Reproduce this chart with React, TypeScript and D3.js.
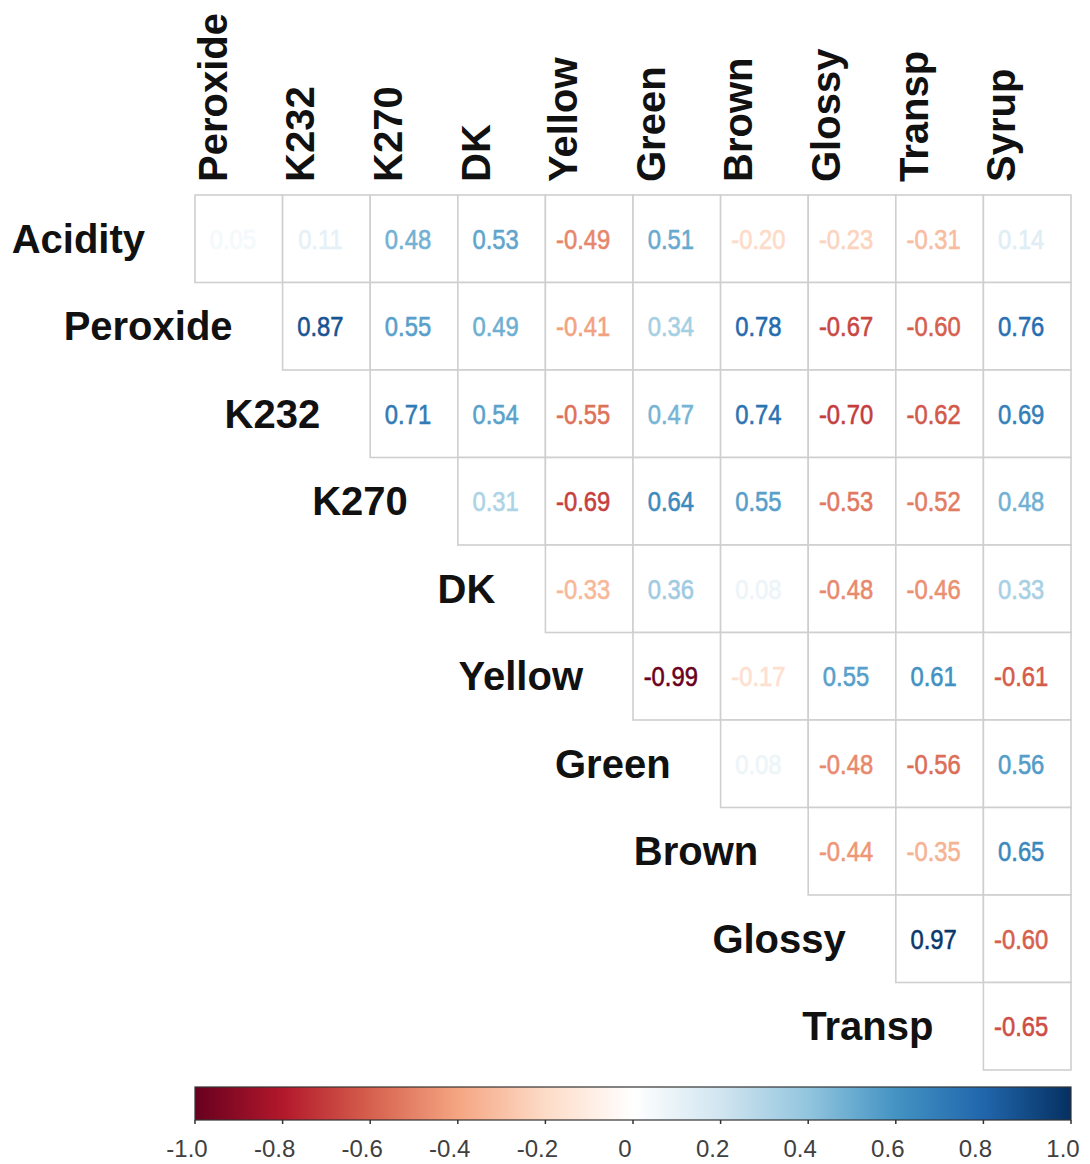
import React, { useEffect, useRef } from "react";
import * as d3 from "d3";

const rowNames = ["Acidity", "Peroxide", "K232", "K270", "DK", "Yellow", "Green", "Brown", "Glossy", "Transp"];
const colNames = ["Peroxide", "K232", "K270", "DK", "Yellow", "Green", "Brown", "Glossy", "Transp", "Syrup"];

// upper triangle, row i starts at column i
const corrRows = [
  [0.05, 0.11, 0.48, 0.53, -0.49, 0.51, -0.2, -0.23, -0.31, 0.14],
  [0.87, 0.55, 0.49, -0.41, 0.34, 0.78, -0.67, -0.6, 0.76],
  [0.71, 0.54, -0.55, 0.47, 0.74, -0.7, -0.62, 0.69],
  [0.31, -0.69, 0.64, 0.55, -0.53, -0.52, 0.48],
  [-0.33, 0.36, 0.08, -0.48, -0.46, 0.33],
  [-0.99, -0.17, 0.55, 0.61, -0.61],
  [0.08, -0.48, -0.56, 0.56],
  [-0.44, -0.35, 0.65],
  [0.97, -0.6],
  [-0.65],
];

const rdbu = ["#67001F", "#B2182B", "#D6604D", "#F4A582", "#FDDBC7", "#FFFFFF", "#D1E5F0", "#92C5DE", "#4393C3", "#2166AC", "#053061"];
const barTicks = [-1, -0.8, -0.6, -0.4, -0.2, 0, 0.2, 0.4, 0.6, 0.8, 1];

const App = () => {
  const ref = useRef(null);

  useEffect(() => {
    const svg = d3.select(ref.current);
    svg.selectAll("*").remove();

    const width = 1090;
    const height = 1164;
    const left = 195;
    const top = 195;
    const right = 1071;
    const bottom = 1070;
    const font = "'Liberation Sans', Arial, sans-serif";

    const x = d3.scaleBand().domain(colNames).range([left, right]);
    const y = d3.scaleBand().domain(rowNames).range([top, bottom]);
    const color = d3
      .scaleLinear()
      .domain(d3.range(rdbu.length).map((i) => -1 + (2 * i) / (rdbu.length - 1)))
      .range(rdbu);

    svg.attr("width", width).attr("height", height);
    svg.append("rect").attr("width", width).attr("height", height).attr("fill", "white");

    const cells = [];
    corrRows.forEach((vals, i) => {
      vals.forEach((v, k) => {
        cells.push({ row: rowNames[i], col: colNames[i + k], v });
      });
    });

    const g = svg.append("g");
    g.selectAll("rect.cell")
      .data(cells)
      .join("rect")
      .attr("class", "cell")
      .attr("x", (d) => x(d.col))
      .attr("y", (d) => y(d.row))
      .attr("width", x.bandwidth())
      .attr("height", y.bandwidth())
      .attr("fill", "white")
      .attr("stroke", "#cfcfcf")
      .attr("stroke-width", 1.6);

    g.selectAll("text.val")
      .data(cells)
      .join("text")
      .attr("class", "val")
      .attr(
        "transform",
        (d) =>
          `translate(${x(d.col) + x.bandwidth() / 2 - 6},${y(d.row) + y.bandwidth() / 2 + 10}) scale(0.85,1)`
      )
      .attr("text-anchor", "middle")
      .attr("font-family", font)
      .attr("font-size", 28)
      .attr("fill", (d) => color(d.v))
      .attr("stroke", (d) => color(d.v))
      .attr("stroke-width", 0.6)
      .text((d) => d.v.toFixed(2));

    // row labels, to the left of the first cell of each row
    g.selectAll("text.rowlab")
      .data(rowNames)
      .join("text")
      .attr("class", "rowlab")
      .attr("x", (d, i) => x(colNames[i]) - 50)
      .attr("y", (d) => y(d) + y.bandwidth() / 2 + 14)
      .attr("text-anchor", "end")
      .attr("font-family", font)
      .attr("font-weight", "bold")
      .attr("font-size", 40)
      .attr("fill", "#111")
      .text((d) => d);

    g.selectAll("text.collab")
      .data(colNames)
      .join("text")
      .attr("class", "collab")
      .attr("transform", (d) => `translate(${x(d) + x.bandwidth() / 2 - 12},${top - 13}) rotate(-90)`)
      .attr("text-anchor", "start")
      .attr("font-family", font)
      .attr("font-weight", "bold")
      .attr("font-size", 40)
      .attr("fill", "#111")
      .text((d) => d);

    // colour bar
    const barTop = 1087;
    const barH = 33;
    const bx = d3.scaleLinear().domain([-1, 1]).range([left, right]);
    const grad = svg
      .append("defs")
      .append("linearGradient")
      .attr("id", "rdbu-grad")
      .attr("x1", "0%")
      .attr("x2", "100%");
    grad
      .selectAll("stop")
      .data(color.domain())
      .join("stop")
      .attr("offset", (d) => `${((d + 1) / 2) * 100}%`)
      .attr("stop-color", (d) => color(d));

    svg
      .append("rect")
      .attr("x", bx(-1))
      .attr("y", barTop)
      .attr("width", bx(1) - bx(-1))
      .attr("height", barH)
      .attr("fill", "url(#rdbu-grad)")
      .attr("stroke", "#333")
      .attr("stroke-width", 1.2);

    const axis = svg.append("g");
    axis
      .selectAll("line")
      .data(barTicks)
      .join("line")
      .attr("x1", (d) => bx(d))
      .attr("x2", (d) => bx(d))
      .attr("y1", barTop + barH)
      .attr("y2", barTop + barH + 4)
      .attr("stroke", "#333")
      .attr("stroke-width", 1.5);
    axis
      .selectAll("text")
      .data(barTicks)
      .join("text")
      .attr("x", (d) => bx(d) - 8)
      .attr("y", 1157)
      .attr("text-anchor", "middle")
      .attr("font-family", font)
      .attr("font-size", 24)
      .attr("fill", "#404040")
      .text((d) => (d === 0 ? "0" : d.toFixed(1)));
  }, []);

  return (
    <svg ref={ref} style={{ position: "absolute", left: 0, top: 0, display: "block" }}></svg>
  );
};

export default App;
